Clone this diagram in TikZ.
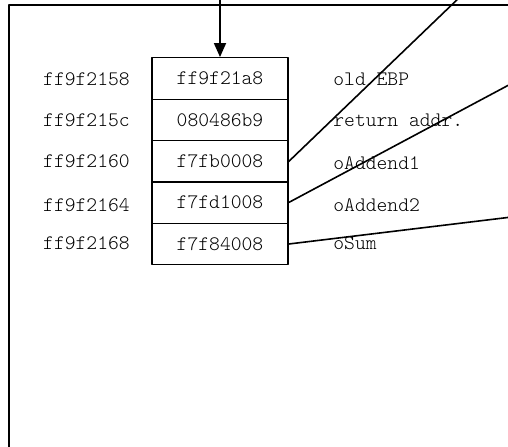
\documentclass[tikz,border=0pt]{standalone}
\usepackage{fontspec}
\setmonofont{Latin Modern Mono Light}
\usetikzlibrary{arrows.meta}
\begin{document}
\begin{tikzpicture}[x=0.5pt,y=-0.5pt,line cap=round,line join=round,
    every node/.style={font=\ttfamily\fontsize{10.3}{12}\selectfont,inner sep=0pt},
    cell/.style={draw,line width=0.7pt,minimum width=68pt,minimum height=20.75pt},
    link/.style={line width=0.8pt}]
  \clip (0,0) rectangle (508,446);
  % frame
  \draw[line width=0.6pt] (9,470) -- (9,5) -- (530,5);
  % stack cells
  \node[cell] (c1) at (220,78.5) {ff9f21a8};
  \node[cell] (c2) at (220,120) {080486b9};
  \node[cell] (c3) at (220,161.5) {f7fb0008};
  \node[cell] (c4) at (220,202.5) {f7fd1008};
  \node[cell] (c5) at (220,244) {f7f84008};
  % addresses
  \node (a1) at (86.5,79) {ff9f2158};
  \node (a2) at (86.5,120) {ff9f215c};
  \node (a3) at (86.5,161) {ff9f2160};
  \node (a4) at (86.5,205) {ff9f2164};
  \node (a5) at (86.5,243) {ff9f2168};
  % names
  \node[anchor=west] (n1) at (333,79) {old EBP};
  \node[anchor=west] (n2) at (333,120) {return addr.};
  \node[anchor=west] (n3) at (333,163) {oAddend1};
  \node[anchor=west] (n4) at (333,205) {oAddend2};
  \node[anchor=west] (n5) at (333,243) {oSum};
  % pointers
  \coordinate (top) at (220,-5);
  \coordinate (p3) at (462,-5);
  \coordinate (p4) at (520,79);
  \coordinate (p5) at (520,216);
  \draw[link,line width=0.9pt,-{Triangle[length=7pt,width=6pt]}] (top) -- (c1.north);
  \draw[link] (c3.east) -- (p3);
  \draw[link] (c4.east) -- (p4);
  \draw[link] (c5.east) -- (p5);
\end{tikzpicture}
\end{document}
